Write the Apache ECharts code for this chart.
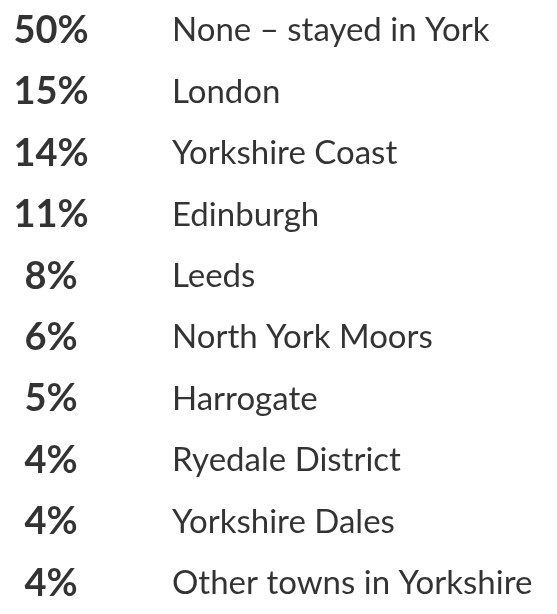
<!DOCTYPE html>
<html>
<head>
<meta charset="utf-8">
<script src="https://cdn.jsdelivr.net/npm/echarts@6/dist/echarts.min.js"></script>
<style>
  html, body { margin: 0; padding: 0; background: #fff; }
  #container { width: 557px; height: 614px; }
</style>
</head>
<body>
<div id="container"></div>
<script>
// places visited besides York, share of visitors
let places = [
    'None \u2013 stayed in York',
    'London',
    'Yorkshire Coast',
    'Edinburgh',
    'Leeds',
    'North York Moors',
    'Harrogate',
    'Ryedale District',
    'Yorkshire Dales',
    'Other towns in Yorkshire'
];
let shares = [50, 15, 14, 11, 8, 6, 5, 4, 4, 4];

let pctX = 51;    // centre of the percent column
let nameX = 172;  // left edge of the place names

let dom = document.getElementById('container');
let chart = echarts.init(dom);

chart.setOption({
    animation: false,
    grid: { left: 0, right: 0, top: -7, bottom: -16 },
    xAxis: { type: 'value', min: 0, max: 557, show: false },
    yAxis: { type: 'category', data: places, inverse: true, show: false },
    series: [
        {
            type: 'scatter',
            symbolSize: 0,
            data: shares.map((v, i) => [pctX, places[i], v]),
            label: {
                show: true,
                position: 'inside',
                formatter: (p) => p.value[2] + '%',
                fontFamily: 'Lato',
                fontWeight: 'bold',
                fontSize: 38,
                color: '#000'
            }
        },
        {
            type: 'scatter',
            symbolSize: 0,
            data: places.map((name) => [nameX, name]),
            label: {
                show: true,
                position: 'right',
                distance: 0,
                formatter: (p) => p.value[1],
                fontFamily: 'Lato',
                fontSize: 33,
                color: '#000'
            }
        }
    ]
});
</script>
</body>
</html>
